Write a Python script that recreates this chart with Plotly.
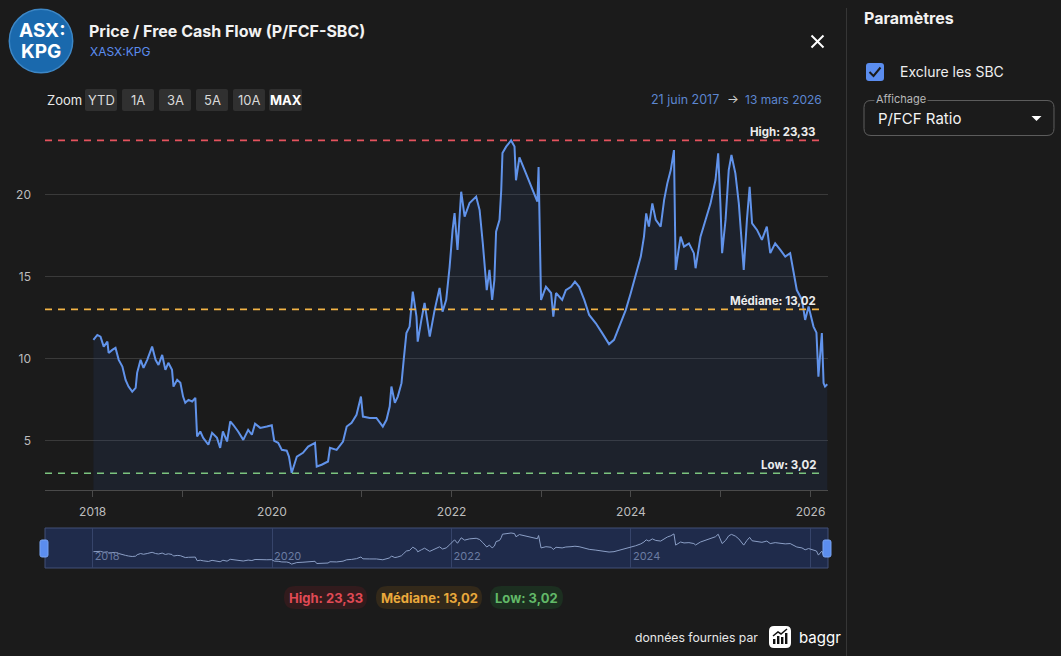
import plotly.graph_objects as go

W, H = 1061, 656
BG = "#1b1b1b"
FONT = "Inter"

# ---------------- data ----------------
dates = [
    "2018-01-04", "2018-01-20", "2018-02-02", "2018-02-15", "2018-03-02", "2018-03-07", "2018-03-22", "2018-04-04", "2018-04-17", "2018-05-02",
    "2018-05-15", "2018-05-27", "2018-06-11", "2018-06-25", "2018-07-01", "2018-07-15", "2018-07-27", "2018-08-11", "2018-08-31", "2018-09-14",
    "2018-09-26", "2018-10-11", "2018-10-24", "2018-11-05", "2018-11-20", "2018-11-26", "2018-12-11", "2018-12-24",
    "2019-01-04", "2019-01-13", "2019-01-26", "2019-02-10", "2019-02-23", "2019-03-02", "2019-03-15", "2019-03-27", "2019-04-17", "2019-05-02",
    "2019-05-22", "2019-06-04", "2019-06-15", "2019-07-02", "2019-07-15", "2019-07-27", "2019-08-16", "2019-09-06", "2019-09-26", "2019-10-11",
    "2019-10-24", "2019-11-14", "2019-12-11", "2019-12-31",
    "2020-01-10", "2020-01-26", "2020-02-10", "2020-03-01", "2020-03-10", "2020-03-21", "2020-04-11", "2020-05-06", "2020-05-27", "2020-06-24",
    "2020-07-01", "2020-07-21", "2020-08-16", "2020-08-24", "2020-09-20", "2020-10-16", "2020-10-31", "2020-11-20", "2020-12-10", "2020-12-28",
    "2021-01-05", "2021-02-02", "2021-03-01", "2021-03-27", "2021-04-11", "2021-04-24", "2021-05-01", "2021-05-15", "2021-05-27", "2021-06-11",
    "2021-06-20", "2021-07-01", "2021-07-14", "2021-07-27", "2021-08-11", "2021-08-16", "2021-08-31", "2021-09-13", "2021-10-04", "2021-10-24",
    "2021-11-13", "2021-11-25", "2021-12-10", "2021-12-24",
    "2022-01-05", "2022-01-13", "2022-01-25", "2022-02-09", "2022-02-23", "2022-03-15", "2022-04-11", "2022-04-25", "2022-05-08", "2022-05-24",
    "2022-06-04", "2022-06-15", "2022-06-24", "2022-07-01", "2022-07-15", "2022-07-22", "2022-07-27", "2022-08-11", "2022-08-31", "2022-09-14",
    "2022-09-20", "2022-10-04", "2022-10-31", "2022-11-26", "2022-12-16", "2022-12-21", "2022-12-31",
    "2023-01-20", "2023-02-10", "2023-02-19", "2023-03-02", "2023-03-27", "2023-04-11", "2023-05-02", "2023-05-18", "2023-06-04", "2023-06-25",
    "2023-07-15", "2023-08-11", "2023-09-06", "2023-10-04", "2023-10-24", "2023-11-14", "2023-12-11", "2023-12-31",
    "2024-01-20", "2024-02-10", "2024-02-23", "2024-03-03", "2024-03-14", "2024-03-28", "2024-04-11", "2024-05-01", "2024-05-15", "2024-05-28",
    "2024-06-11", "2024-06-24", "2024-07-01", "2024-07-21", "2024-08-04", "2024-08-24", "2024-09-13", "2024-09-20", "2024-10-10", "2024-10-30",
    "2024-11-20", "2024-12-10", "2024-12-21", "2024-12-30",
    "2025-01-06", "2025-01-20", "2025-02-02", "2025-02-13", "2025-03-01", "2025-03-15", "2025-04-04", "2025-04-17", "2025-04-28", "2025-05-08",
    "2025-05-28", "2025-06-17", "2025-07-07", "2025-07-21", "2025-08-10", "2025-08-31", "2025-09-20", "2025-10-10", "2025-10-24", "2025-11-06",
    "2025-11-27", "2025-12-10", "2025-12-24",
    "2026-01-13", "2026-01-25", "2026-02-02", "2026-02-16", "2026-02-23", "2026-03-01", "2026-03-10",
]

pfcf = [
    11.16, 11.46, 11.36, 10.75, 11.05, 10.36, 10.55, 10.67, 9.94, 9.53,
    8.72, 8.31, 8.00, 8.23, 9.15, 9.94, 9.45, 9.94, 10.75, 9.94,
    9.63, 10.24, 9.33, 9.76, 9.33, 8.31, 8.72, 8.54,
    7.70, 7.32, 7.50, 7.40, 7.62, 5.26, 5.57, 5.18, 4.76, 5.49,
    5.18, 4.57, 5.57, 4.96, 6.18, 5.98, 5.57, 5.06, 5.67, 5.37,
    6.05, 5.79, 5.87, 5.95,
    5.00, 4.88, 4.45, 4.40, 4.04, 3.04, 4.04, 4.27, 4.65, 4.88,
    3.43, 3.54, 3.74, 4.57, 4.45, 4.96, 5.87, 6.10, 6.59, 7.70,
    6.48, 6.40, 6.40, 5.87, 6.28, 7.09, 8.31, 7.32, 7.70, 8.52,
    9.94, 11.57, 11.97, 14.10, 12.58, 11.05, 12.38, 13.41, 11.36, 12.99,
    14.33, 12.88, 13.60, 15.63,
    17.87, 18.90, 16.65, 20.20, 18.68, 19.51, 19.90, 19.08, 17.05, 14.20,
    15.43, 13.60, 14.80, 17.76, 18.48, 20.30, 22.56, 22.95, 23.33, 22.95,
    20.90, 22.30, 21.30, 20.30, 19.60, 21.70, 13.60,
    14.40, 14.02, 12.58, 14.02, 13.60, 14.20, 14.40, 14.71, 14.40, 13.60,
    12.68, 12.17, 11.57, 10.90, 11.16, 11.97, 12.99, 14.00,
    15.02, 16.24, 17.46, 18.88, 18.07, 19.49, 18.48, 18.07, 19.70, 20.71,
    21.52, 22.74, 15.43, 17.46, 16.85, 17.05, 16.45, 15.53, 17.46, 18.48,
    19.49, 20.91, 22.54, 19.49,
    16.45, 18.48, 21.52, 22.44, 21.32, 19.49, 15.43, 18.48, 20.50, 18.27,
    17.87, 17.26, 18.07, 16.45, 17.05, 16.65, 16.24, 16.45, 15.23, 14.20,
    13.60, 12.38, 13.19,
    11.97, 11.60, 8.92, 11.57, 8.52, 8.31, 8.45,
]

HIGH, MEDIAN, LOW = 23.33, 13.02, 3.02
ref_names = ["High", "Médiane", "Low"]
ref_values = [HIGH, MEDIAN, LOW]
ref_labels = ["High: 23,33", "Médiane: 13,02", "Low: 3,02"]
y_ticks = [5, 10, 15, 20]
x_start, x_end = "2017-06-21", "2026-03-13"
zoom_buttons = ["YTD", "1A", "3A", "5A", "10A", "MAX"]


# ---------------- helpers (pixel -> paper) ----------------
def PX(x):
    return x / W


def PY(y):
    return 1 - y / H


def rrect_path(x0, y0, x1, y1, r):
    pts = [
        ("M", [(x0 + r, y0)]), ("L", [(x1 - r, y0)]), ("Q", [(x1, y0), (x1, y0 + r)]),
        ("L", [(x1, y1 - r)]), ("Q", [(x1, y1), (x1 - r, y1)]), ("L", [(x0 + r, y1)]),
        ("Q", [(x0, y1), (x0, y1 - r)]), ("L", [(x0, y0 + r)]), ("Q", [(x0, y0), (x0 + r, y0)]),
    ]
    s = ""
    for cmd, ps in pts:
        s += cmd + " " + " ".join(f"{PX(a):.5f},{PY(b):.5f}" for a, b in ps) + " "
    return s + "Z"


def poly_path(points, close=False):
    s = "M " + " L ".join(f"{PX(a):.5f},{PY(b):.5f}" for a, b in points)
    return s + (" Z" if close else "")


fig = go.Figure()

# main line with subtle area
fig.add_trace(go.Scatter(
    x=dates, y=pfcf, mode="lines", xaxis="x", yaxis="y",
    line=dict(color="#6193ea", width=2),
    fill="tozeroy", fillcolor="rgba(45,75,150,0.14)",
    hoverinfo="skip", showlegend=False,
))
# navigator mini line
fig.add_trace(go.Scatter(
    x=dates, y=pfcf, mode="lines", xaxis="x2", yaxis="y2",
    line=dict(color="#8b9fc6", width=1),
    hoverinfo="skip", showlegend=False,
))

shapes = []
annotations = []


def ann(text, x, y, size=12, color="#e6e6e6", bold=False, xanchor="left", **kw):
    d = dict(text=(f"<b>{text}</b>" if bold else text), x=x, y=y, xref=kw.pop("xref", "paper"),
             yref=kw.pop("yref", "paper"), showarrow=False, xanchor=xanchor,
             yanchor=kw.pop("yanchor", "middle"),
             font=dict(family=FONT, size=size, color=color))
    d.update(kw)
    annotations.append(d)


# ---- header ----
shapes.append(dict(type="circle", xref="paper", yref="paper",
                   x0=PX(9.3), x1=PX(72.7), y0=PY(72.7), y1=PY(9.3),
                   fillcolor="#1a69ad", line=dict(color="#3d87c6", width=1.5), layer="above"))
ann("ASX:", PX(41.5), PY(31), size=19, color="#ffffff", bold=True, xanchor="center")
ann("KPG", PX(41), PY(51), size=19, color="#ffffff", bold=True, xanchor="center")
ann("Price / Free Cash Flow (P/FCF-SBC)", PX(87), PY(31.5), size=16, color="#f2f2f2", bold=True)
ann("XASX:KPG", PX(88), PY(51.5), size=12, color="#5b8def")

# close X
shapes.append(dict(type="line", xref="paper", yref="paper", x0=PX(811.5), y0=PY(35.5), x1=PX(823.5), y1=PY(47.5),
                   line=dict(color="#ffffff", width=2)))
shapes.append(dict(type="line", xref="paper", yref="paper", x0=PX(823.5), y0=PY(35.5), x1=PX(811.5), y1=PY(47.5),
                   line=dict(color="#ffffff", width=2)))

# zoom row
ann("Zoom", PX(45), PY(100), size=13, color="#e8e8e8")
btn_x = [(85, 117), (122, 154), (159, 191), (196, 228), (233, 265), (269, 302)]
for label, (a, b) in zip(zoom_buttons, btn_x):
    shapes.append(dict(type="path", xref="paper", yref="paper", path=rrect_path(a, 89, b, 111, 2),
                       fillcolor="#303030", line=dict(width=0)))
    ann(label, PX((a + b) / 2), PY(100), size=13,
        color="#ffffff" if label == "MAX" else "#d9d9d9", bold=(label == "MAX"), xanchor="center")

# date range
ann("21 juin 2017", PX(649), PY(99.5), size=12.5, color="#5c86d0", xanchor="left")
ann("→", PX(733), PY(99), size=12.5, color="#cfcfcf", xanchor="center")
ann("13 mars 2026", PX(824), PY(99.5), size=12, color="#5c86d0", xanchor="right")

# reference lines + labels
ref_colors = ["#e5535e", "#f2b446", "#7cc47f"]
for name, val, lab, col in zip(ref_names, ref_values, ref_labels, ref_colors):
    shapes.append(dict(type="line", xref="x domain", yref="y", x0=0, x1=0.9936, y0=val, y1=val,
                       line=dict(color=col, width=1.6, dash="7px,6px"), layer="above"))
    ann(lab, PX(818), val, yref="y", size=11.5, color="#ececec", bold=True, xanchor="right",
        yanchor="bottom", yshift=-1)

# navigator background and handles
shapes.append(dict(type="rect", xref="x2 domain", yref="y2 domain", x0=0, x1=1, y0=0, y1=1,
                   fillcolor="#1f2b4b", line=dict(color="#425178", width=1), layer="below"))
for a, b in [(40, 48), (823, 831)]:
    shapes.append(dict(type="path", xref="paper", yref="paper", path=rrect_path(a, 540, b, 557, 2),
                       fillcolor="#5b8def", line=dict(color="#7aa4f2", width=1), layer="above"))

# bottom pills
pill_x = [(284, 367), (376, 482), (490, 563)]
pill_bg = ["#321b1d", "#33291a", "#1c2f20"]
pill_fg = ["#e04a55", "#eaa93c", "#62b968"]
for lab, (a, b), bgc, fg in zip(ref_labels, pill_x, pill_bg, pill_fg):
    shapes.append(dict(type="path", xref="paper", yref="paper", path=rrect_path(a, 586, b, 609, 11.5),
                       fillcolor=bgc, line=dict(width=0)))
    ann(lab, PX((a + b) / 2), PY(597.5), size=13, color=fg, bold=True, xanchor="center")

# data credit
ann("données fournies par", PX(760), PY(637), size=12.2, color="#e8e8e8", xanchor="right")
shapes.append(dict(type="path", xref="paper", yref="paper", path=rrect_path(769, 626, 791, 648, 5),
                   fillcolor="#ffffff", line=dict(width=0)))
for a, top in [(773, 639), (777, 636), (781, 637), (785, 633)]:
    shapes.append(dict(type="rect", xref="paper", yref="paper", x0=PX(a), x1=PX(a + 2.4),
                       y0=PY(644), y1=PY(top), fillcolor="#111111", line=dict(width=0)))
shapes.append(dict(type="path", xref="paper", yref="paper",
                   path=poly_path([(773, 636), (778, 632), (781, 634), (787, 629)]),
                   line=dict(color="#111111", width=1.5)))
ann("baggr", PX(796.5), PY(637), size=15, color="#ffffff")

# separator + right panel
shapes.append(dict(type="line", xref="paper", yref="paper", x0=PX(846.5), x1=PX(846.5), y0=PY(8), y1=PY(656),
                   line=dict(color="#363636", width=1)))
ann("Paramètres", PX(862), PY(18), size=16, color="#f2f2f2", bold=True)
shapes.append(dict(type="path", xref="paper", yref="paper", path=rrect_path(866, 63, 884, 81, 3),
                   fillcolor="#5b8def", line=dict(width=0)))
shapes.append(dict(type="path", xref="paper", yref="paper", path=poly_path([(869.5, 72), (873.5, 76), (880.5, 67.5)]),
                   line=dict(color="#1b1b1b", width=2)))
ann("Exclure les SBC", PX(898), PY(72), size=14, color="#efefef")
shapes.append(dict(type="path", xref="paper", yref="paper", path=rrect_path(864, 100.5, 1054, 135.5, 7),
                   fillcolor="rgba(0,0,0,0)", line=dict(color="#5e5e5e", width=1)))
ann("Affichage", PX(874), PY(98.5), size=11, color="#b8b8b8", bgcolor=BG, borderpad=1)
ann("P/FCF Ratio", PX(876), PY(118), size=15, color="#f4f4f4")
shapes.append(dict(type="path", xref="paper", yref="paper",
                   path=poly_path([(1031.5, 116), (1041.5, 116), (1036.5, 121)], close=True),
                   fillcolor="#ffffff", line=dict(width=0)))

X_DOM = [PX(45), PX(828)]

fig.update_layout(
    width=W, height=H,
    margin=dict(l=0, r=0, t=0, b=0, pad=0),
    paper_bgcolor=BG, plot_bgcolor="rgba(0,0,0,0)",
    font=dict(family=FONT, color="#bdbdbd", size=12),
    showlegend=False,
    hovermode=False,
    xaxis=dict(
        domain=X_DOM, anchor="y", type="date", range=[x_start, x_end],
        showgrid=False, zeroline=False, automargin=False,
        showline=True, linecolor="#4a4a4a", linewidth=1,
        ticks="outside", ticklen=6, tickcolor="#4a4a4a",
        tick0="2018-01-01", dtick="M24", tickformat="%Y",
        minor=dict(dtick="M12", tick0="2018-01-01", ticks="outside", ticklen=6, tickcolor="#4a4a4a", showgrid=False),
        tickfont=dict(family=FONT, size=12, color="#bdbdbd"),
        ticklabelstandoff=5, fixedrange=True,
    ),
    yaxis=dict(
        domain=[PY(490), PY(119.6)], anchor="x", range=[2, 24.6],
        tickmode="array", tickvals=y_ticks, ticktext=[str(v) for v in y_ticks],
        showgrid=True, gridcolor="#3a3a3a", gridwidth=1,
        zeroline=False, showline=False, automargin=False,
        tickfont=dict(family=FONT, size=12, color="#bdbdbd"),
        ticklabelstandoff=13, fixedrange=True,
    ),
    xaxis2=dict(
        domain=X_DOM, anchor="y2", type="date", range=[x_start, x_end],
        showgrid=True, gridcolor="#36446a", gridwidth=1,
        zeroline=False, showline=False, automargin=False,
        tick0="2018-01-01", dtick="M24", tickformat="%Y",
        ticks="", ticklabelposition="inside right", ticklabelshift=2,
        tickfont=dict(family=FONT, size=11, color="#6b7ca2"),
        fixedrange=True,
    ),
    yaxis2=dict(
        domain=[PY(568), PY(528)], anchor="x2", range=[0.5, 26.6],
        visible=False, fixedrange=True,
    ),
    shapes=shapes,
    annotations=annotations,
)

fig.write_html("out.html", config={"displayModeBar": False})
